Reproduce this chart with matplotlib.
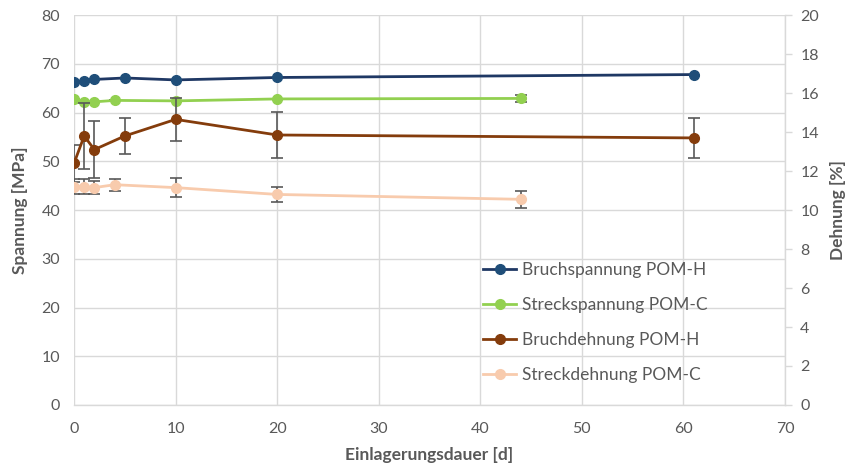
import matplotlib
matplotlib.use("Agg")
import matplotlib.pyplot as plt
from matplotlib.ticker import MultipleLocator

plt.rcParams['font.family'] = ['Lato', 'DejaVu Sans']

# Bruchspannung POM-H (MPa)
days_bs_h = [0, 1, 2, 5, 10, 20, 61]
bs_h = [66.2, 66.5, 66.8, 67.1, 66.7, 67.2, 67.8]

# Streckspannung POM-C (MPa)
days_ss_c = [0, 1, 2, 4, 10, 20, 44]
ss_c = [62.7, 62.2, 62.2, 62.5, 62.4, 62.8, 62.9]
ss_c_err = [0, 0, 0, 0, 0, 0, 0.7]

# Bruchdehnung POM-H (%)
days_bd_h = [0, 1, 2, 5, 10, 20, 61]
bd_h = [12.4, 13.8, 13.1, 13.8, 14.65, 13.85, 13.7]
bd_h_err = [0.95, 1.7, 1.45, 0.93, 1.1, 1.2, 1.03]

# Streckdehnung POM-C (%)
days_sd_c = [0, 1, 2, 4, 10, 20, 44]
sd_c = [11.2, 11.2, 11.15, 11.3, 11.15, 10.8, 10.55]
sd_c_err = [0.38, 0.38, 0.35, 0.3, 0.48, 0.4, 0.45]

c_blue = '#1F3864'
c_blue_m = '#1F4E79'
c_green = '#92D050'
c_brown = '#843C0C'
c_peach = '#F8CBAD'
c_text = '#595959'
c_grid = '#D9D9D9'
c_err = '#595959'

fig = plt.figure(figsize=(8.53, 4.72), dpi=100)
ax = fig.add_axes([0.0868, 0.142, 0.8335, 0.826])
ax2 = ax.twinx()

ax.set_xlim(0, 70)
ax.set_ylim(0, 80)
ax2.set_ylim(0, 20)
ax.xaxis.set_major_locator(MultipleLocator(10))
ax.yaxis.set_major_locator(MultipleLocator(10))
ax2.yaxis.set_major_locator(MultipleLocator(2))

ax.grid(True, color=c_grid, linewidth=1.0)
ax.set_axisbelow(True)
for sp in ['top', 'right', 'left']:
    ax.spines[sp].set_visible(False)
ax.spines['bottom'].set_color(c_grid)
ax.spines['bottom'].set_linewidth(1.0)
for sp in ['top', 'left', 'bottom']:
    ax2.spines[sp].set_visible(False)
ax2.spines['right'].set_color(c_grid)
ax2.spines['right'].set_linewidth(1.0)

ax.tick_params(axis='x', length=0, labelsize=11.5, labelcolor=c_text, pad=12)
ax.tick_params(axis='y', length=0, labelsize=11.5, labelcolor=c_text, pad=10)
ax2.tick_params(axis='y', length=5, width=1.0, color=c_grid, labelsize=11.5,
                labelcolor=c_text, pad=6)

l1, = ax.plot(days_bs_h, bs_h, color=c_blue, lw=2.0, marker='o', ms=7,
              mfc=c_blue_m, mec=c_blue_m, label='Bruchspannung POM-H', zorder=5)
ax.errorbar(days_ss_c, ss_c, yerr=ss_c_err, fmt='none', ecolor=c_err,
            elinewidth=1.2, capsize=4, capthick=1.2, zorder=4)
l2, = ax.plot(days_ss_c, ss_c, color=c_green, lw=2.0, marker='o', ms=7,
              mfc=c_green, mec=c_green, label='Streckspannung POM-C', zorder=5)

ax2.errorbar(days_bd_h, bd_h, yerr=bd_h_err, fmt='none', ecolor=c_err,
             elinewidth=1.2, capsize=4, capthick=1.2, zorder=4)
l3, = ax2.plot(days_bd_h, bd_h, color=c_brown, lw=2.0, marker='o', ms=7,
               mfc=c_brown, mec=c_brown, label='Bruchdehnung POM-H', zorder=5)
ax2.errorbar(days_sd_c, sd_c, yerr=sd_c_err, fmt='none', ecolor=c_err,
             elinewidth=1.2, capsize=4, capthick=1.2, zorder=4)
l4, = ax2.plot(days_sd_c, sd_c, color=c_peach, lw=2.0, marker='o', ms=7,
               mfc=c_peach, mec=c_peach, label='Streckdehnung POM-C', zorder=5)

ax.set_xlabel('Einlagerungsdauer [d]', fontsize=12.5, fontweight='bold',
              color=c_text, labelpad=8)
ax.set_ylabel('Spannung [MPa]', fontsize=12.5, fontweight='bold',
              color=c_text, labelpad=10)
ax2.set_ylabel('Dehnung [%]', fontsize=12.5, fontweight='bold',
               color=c_text, labelpad=8)

leg = ax2.legend(handles=[l1, l2, l3, l4], loc='upper left',
                 bbox_to_anchor=(0.566, 0.385), frameon=False, fontsize=12.5,
                 handlelength=1.9, handletextpad=0.3, labelspacing=1.1,
                 borderaxespad=0)
for t in leg.get_texts():
    t.set_color(c_text)

fig.savefig('out.png', dpi=100)
